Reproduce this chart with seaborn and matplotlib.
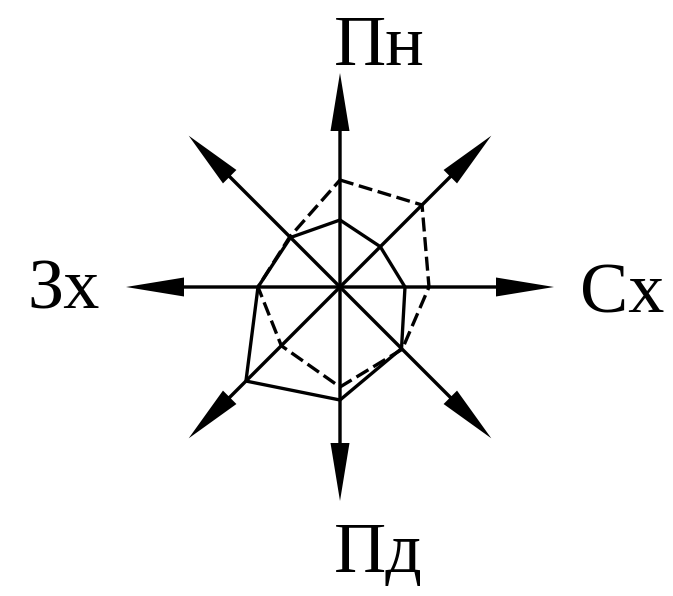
import matplotlib
matplotlib.use("Agg")
import matplotlib.pyplot as plt
import numpy as np
import seaborn as sns
import pandas as pd

# directions clockwise from north
directions = ["Пн", "ПнСх", "Сх", "ПдСх", "Пд", "ПдЗх", "Зх", "ПнЗх"]
angles_deg = [0, 45, 90, 135, 180, 225, 270, 315]
# lengths of the rays (same unit as the arrows)
dashed_r = [107, 116, 89, 88, 100, 83, 82, 71]
solid_r = [67, 57, 65, 87, 113, 133, 82, 70]
labels = ["Пн", "Сх", "Пд", "Зх"]

sns.set_style("white")
plt.rcParams['font.family'] = ['Liberation Serif', 'DejaVu Serif']
plt.rcParams['text.color'] = 'black'

fig = plt.figure(figsize=(6.73, 5.96), dpi=100)
ax = fig.add_axes([0, 0, 1, 1])
ax.set_xlim(-340, 333)
ax.set_ylim(-309, 287)
ax.set_aspect('equal')
ax.axis('off')


def closed_polygon(radii):
    th = np.deg2rad(angles_deg + [angles_deg[0]])
    r = np.array(radii + [radii[0]])
    return pd.DataFrame({'x': r * np.sin(th), 'y': r * np.cos(th)})


# arrows
arrow_len = 214
for a in angles_deg:
    t = np.deg2rad(a)
    ax.arrow(0, 0, arrow_len * np.sin(t), arrow_len * np.cos(t),
             width=3.4, head_width=19, head_length=58,
             length_includes_head=True, color='black', linewidth=0, zorder=2)

# polygons
d_sol = closed_polygon(solid_r)
d_dash = closed_polygon(dashed_r)
sns.lineplot(data=d_sol, x='x', y='y', sort=False, estimator=None, ax=ax,
             color='black', linewidth=2.4, zorder=3)
sns.lineplot(data=d_dash, x='x', y='y', sort=False, estimator=None, ax=ax,
             color='black', linewidth=2.4, linestyle=(0, (4.2, 1.7)), zorder=3)
ax.set_xlabel('')
ax.set_ylabel('')

# labels
fs = 52
ax.text(-6, 222, labels[0], fontsize=fs, ha='left', va='baseline', color='black')
ax.text(240, -25, labels[1], fontsize=fs, ha='left', va='baseline', color='black')
ax.text(-6, -285, labels[2], fontsize=fs, ha='left', va='baseline', color='black')
ax.text(-313, -21, labels[3], fontsize=fs, ha='left', va='baseline', color='black')

plt.savefig("out.png", dpi=100)
